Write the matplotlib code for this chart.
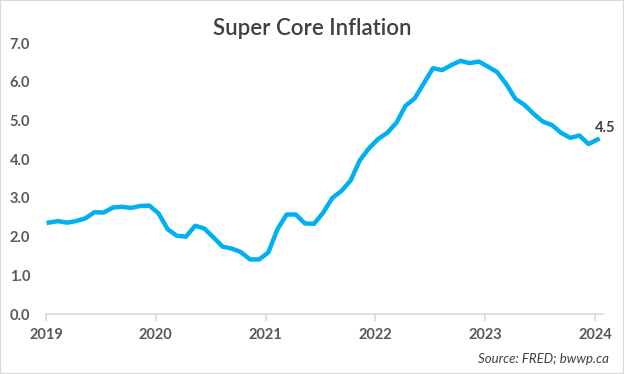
import numpy as np
import matplotlib.pyplot as plt
from matplotlib.patches import Rectangle

# monthly super core inflation, Jan 2019 .. Jan 2024
nilai = [2.36, 2.40, 2.36, 2.40, 2.47, 2.63, 2.62, 2.75, 2.77, 2.74, 2.79, 2.80,
         2.60, 2.19, 2.02, 2.00, 2.28, 2.21, 1.98, 1.74, 1.69, 1.60, 1.41, 1.41,
         1.59, 2.19, 2.57, 2.57, 2.34, 2.33, 2.62, 3.00, 3.18, 3.45, 3.97, 4.28,
         4.52, 4.68, 4.94, 5.38, 5.57, 5.96, 6.35, 6.30, 6.43, 6.54, 6.48, 6.52,
         6.39, 6.25, 5.94, 5.56, 5.40, 5.17, 4.97, 4.88, 4.68, 4.55, 4.61, 4.39,
         4.51]
tahun = [2019, 2020, 2021, 2022, 2023, 2024]
yticks = [0, 1, 2, 3, 4, 5, 6, 7]

bulan = np.arange(len(nilai))
x = 2019 + (bulan + 0.3) / 12

plt.rcParams['font.family'] = ['Lato', 'DejaVu Sans']

fig = plt.figure(figsize=(6.24, 3.74), dpi=100)
ax = fig.add_axes([0.0737, 0.1604, 0.8926, 0.7246])

ax.plot(x, nilai, c='#00b0f0', linewidth=3.2, solid_joinstyle='round')

ax.set_xlim(2019, 2024.073)
ax.set_ylim(0, 7)
ax.set_xticks(tahun)
ax.set_xticklabels([str(t) for t in tahun])
ax.set_yticks(yticks)
ax.set_yticklabels(['%.1f' % v for v in yticks])

for s in ['top', 'right', 'left']:
    ax.spines[s].set_visible(False)
ax.spines['bottom'].set_color('#d9d9d9')
ax.spines['bottom'].set_linewidth(1.2)
ax.tick_params(axis='x', colors='#d9d9d9', length=5, width=1.2, pad=5,
               labelcolor='#595959', labelsize=10.5)
ax.tick_params(axis='y', length=0, pad=11.5, labelcolor='#595959', labelsize=10.5)
for lbl in ax.get_xticklabels() + ax.get_yticklabels():
    lbl.set_fontweight('bold')

ax.annotate('%.1f' % nilai[-1], (x[-1], nilai[-1]), xytext=(-2, 5),
            textcoords='offset points', fontsize=10.5, fontweight='bold',
            color='#404040', annotation_clip=False)

fig.text(0.5, 0.925, 'Super Core Inflation', ha='center', va='center',
         fontsize=16, fontweight='semibold', color='#404040')
fig.text(0.975, 0.04, 'Source: FRED; bwwp.ca', ha='right', va='center',
         fontsize=9.5, style='italic', color='#404040')

fig.patches.append(Rectangle((0, 0), 1, 1, transform=fig.transFigure,
                             fill=False, edgecolor='#d9d9d9', linewidth=1.5))

fig.savefig('out.png', dpi=100)
